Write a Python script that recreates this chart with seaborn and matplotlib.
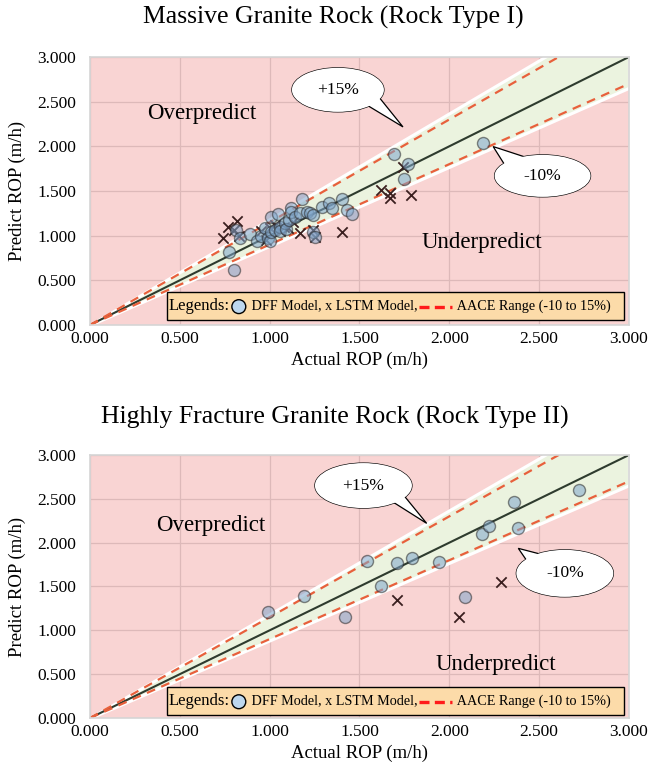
import matplotlib
matplotlib.use("Agg")
import matplotlib.pyplot as plt
import numpy as np
import pandas as pd
import seaborn as sns
from matplotlib.lines import Line2D
from matplotlib.offsetbox import AnchoredOffsetbox, DrawingArea, HPacker, TextArea
from matplotlib.patches import Circle, Ellipse, Polygon, Rectangle

# ---- data ----
top_dff_x = [0.775, 0.80, 0.81, 0.835, 0.89, 0.93, 0.95, 0.974, 0.99, 1.00, 1.01, 1.01, 1.03,
             1.045, 1.057, 1.06, 1.085, 1.09, 1.11, 1.12, 1.12, 1.14, 1.17, 1.18, 1.206, 1.224,
             1.24, 1.24, 1.25, 1.29, 1.33, 1.345, 1.40, 1.43, 1.46, 1.69, 1.77, 1.75, 2.185]
top_dff_y = [0.82, 0.61, 1.06, 0.97, 1.02, 0.935, 1.00, 1.08, 0.97, 0.935, 1.21, 1.04, 1.06,
             1.24, 1.10, 1.05, 1.14, 1.07, 1.18, 1.31, 1.27, 1.21, 1.25, 1.41, 1.27, 1.25,
             1.23, 1.045, 0.99, 1.32, 1.36, 1.31, 1.41, 1.29, 1.24, 1.915, 1.80, 1.635, 2.04]
top_lstm_x = [0.742, 0.77, 0.80, 0.816, 0.83, 0.95, 0.98, 1.00, 1.03, 1.06, 1.08, 1.10, 1.13,
              1.17, 1.243, 1.25, 1.40, 1.62, 1.67, 1.67, 1.744, 1.785]
top_lstm_y = [0.97, 1.10, 1.06, 1.16, 1.00, 1.05, 0.95, 1.08, 1.12, 1.05, 1.10, 1.08, 1.15,
              1.03, 1.06, 0.99, 1.045, 1.51, 1.475, 1.42, 1.77, 1.45]

bot_dff_x = [0.99, 1.19, 1.42, 1.54, 1.62, 1.71, 1.79, 1.94, 2.09, 2.18, 2.22, 2.36, 2.38, 2.72]
bot_dff_y = [1.21, 1.395, 1.155, 1.79, 1.51, 1.77, 1.83, 1.775, 1.38, 2.10, 2.19, 2.465, 2.17, 2.60]
bot_lstm_x = [1.707, 2.053, 2.287]
bot_lstm_y = [1.35, 1.15, 1.555]

titles = ["Massive Granite Rock (Rock Type I)", "Highly Fracture Granite Rock (Rock Type II)"]
ticks = [0.0, 0.5, 1.0, 1.5, 2.0, 2.5, 3.0]
upper_pct, lower_pct = 1.15, 0.90

SERIF = "Liberation Serif"
PINK = "#F9D4D3"
GRID = "#DDB9B9"
GREEN = "#EBF3DF"
DASH = "#E8603C"


def callout(ax, text, center, w, h, base1, base2, tip):
    ax.add_patch(Ellipse(center, w, h, fc="white", ec="black", lw=0.9, zorder=6))
    ax.add_patch(Polygon([base1, base2, tip], closed=True, fc="white", ec="black", lw=0.9, zorder=7))
    ax.add_patch(Ellipse(center, w, h, fc="white", ec="none", lw=0, zorder=8))
    ax.text(center[0], center[1], text, ha="center", va="center", fontsize=12.5,
            family=SERIF, zorder=9)


def legend_box(ax, y0, h):
    ax.add_patch(Rectangle((0.143, y0), 0.848, h, transform=ax.transAxes, fc="#FCDBA9",
                           ec="black", lw=1.0, zorder=10))
    t1 = TextArea("Legends:", textprops=dict(size=12, family=SERIF))
    da1 = DrawingArea(13, 13, 0, 0)
    da1.add_artist(Circle((6.5, 6.0), 5.0, fc="#BDD7EE", ec="black", lw=1.0))
    t2 = TextArea(" DFF Model, x LSTM Model,", textprops=dict(size=10.2, family=SERIF))
    da2 = DrawingArea(26, 10, 0, 0)
    da2.add_artist(Line2D([1, 25], [4, 4], color="#FF1A1A", lw=2.4, ls=(0, (3, 1.6))))
    t3 = TextArea(" AACE Range (-10 to 15%)", textprops=dict(size=10.2, family=SERIF))
    pack = HPacker(children=[t1, da1, t2, da2, t3], align="center", pad=0, sep=0)
    box = AnchoredOffsetbox(loc="center left", child=pack, frameon=False, pad=0, borderpad=0,
                            bbox_to_anchor=(0.146, y0 + h / 2), bbox_transform=ax.transAxes)
    box.set_zorder(11)
    ax.add_artist(box)


def panel(ax, dff_x, dff_y, lstm_x, lstm_y):
    ax.set_facecolor(PINK)
    ax.set_xlim(0, 3)
    ax.set_ylim(0, 3)
    ax.set_xticks(ticks)
    ax.set_yticks(ticks)
    ax.set_xticklabels([f"{t:.3f}" for t in ticks])
    ax.set_yticklabels([f"{t:.3f}" for t in ticks])
    ax.grid(True, color=GRID, lw=0.9, zorder=0)
    ax.set_axisbelow(True)
    ax.tick_params(length=0, labelsize=12.5, pad=4, labelcolor="black")
    ax.tick_params(axis="y", pad=10)
    for lab in ax.get_xticklabels() + ax.get_yticklabels():
        lab.set_family(SERIF)
    for s in ax.spines.values():
        s.set_color("#D6D6D6")
        s.set_linewidth(1.2)

    xs = np.array([0.0, 3.0])
    ax.fill_between(xs, 0.885 * xs, 1.185 * xs, color=GREEN, ec="white", lw=2.2, zorder=1)
    ax.plot(xs, xs, color="#2E3B2E", lw=1.5, zorder=2)
    ax.plot(xs, upper_pct * xs, color=DASH, lw=1.6, ls=(0, (4, 3)), zorder=2)
    ax.plot(xs, lower_pct * xs, color=DASH, lw=1.6, ls=(0, (4, 3)), zorder=2)

    lstm = pd.DataFrame({"actual": lstm_x, "pred": lstm_y})
    dff = pd.DataFrame({"actual": dff_x, "pred": dff_y})
    sns.scatterplot(data=lstm, x="actual", y="pred", ax=ax, marker="x", s=55, color="#3A1F1F",
                    linewidth=1.3, zorder=3, legend=False)
    sns.scatterplot(data=dff, x="actual", y="pred", ax=ax, marker="o", s=75, color="#7FA5CB",
                    alpha=0.55, edgecolor="#2A2A2A", linewidth=1.0, zorder=4, legend=False)

    ax.set_xlabel("Actual ROP (m/h)", fontsize=13.5, family=SERIF, labelpad=4, color="black")
    ax.set_ylabel("Predict ROP (m/h)", fontsize=13.5, family=SERIF, labelpad=8, color="black")


sns.set_theme(style="white")
plt.rcParams["font.family"] = SERIF
plt.rcParams["text.color"] = "black"

fig = plt.figure(figsize=(6.63, 7.78), dpi=100)
ax1 = fig.add_axes([0.1357, 0.5823, 0.8130, 0.3445])
ax2 = fig.add_axes([0.1357, 0.0771, 0.8130, 0.3381])

panel(ax1, top_dff_x, top_dff_y, top_lstm_x, top_lstm_y)
panel(ax2, bot_dff_x, bot_dff_y, bot_lstm_x, bot_lstm_y)

ax1.text(0.62, 2.37, "Overpredict", ha="center", va="center", fontsize=16.5, family=SERIF, zorder=5)
ax1.text(2.18, 0.92, "Underpredict", ha="center", va="center", fontsize=16.5, family=SERIF, zorder=5)
ax2.text(0.675, 2.19, "Overpredict", ha="center", va="center", fontsize=16.5, family=SERIF, zorder=5)
ax2.text(2.26, 0.615, "Underpredict", ha="center", va="center", fontsize=16.5, family=SERIF, zorder=5)

callout(ax1, "+15%", (1.380, 2.632), 0.512, 0.493, (1.530, 2.475), (1.603, 2.564), (1.742, 2.217))
callout(ax1, "-10%", (2.519, 1.669), 0.534, 0.470, (2.326, 1.736), (2.437, 1.870), (2.244, 1.997))
callout(ax2, "+15%", (1.522, 2.651), 0.540, 0.513, (1.669, 2.486), (1.736, 2.566), (1.874, 2.220))
callout(ax2, "-10%", (2.643, 1.650), 0.540, 0.536, (2.448, 1.744), (2.549, 1.847), (2.384, 1.935))

legend_box(ax1, 0.019, 0.104)
legend_box(ax2, 0.011, 0.107)

fig.text(0.502, 0.977, titles[0], ha="center", va="center", fontsize=18.5, family=SERIF)
fig.text(0.505, 0.463, titles[1], ha="center", va="center", fontsize=18.5, family=SERIF)

fig.savefig("out.png", dpi=100)
